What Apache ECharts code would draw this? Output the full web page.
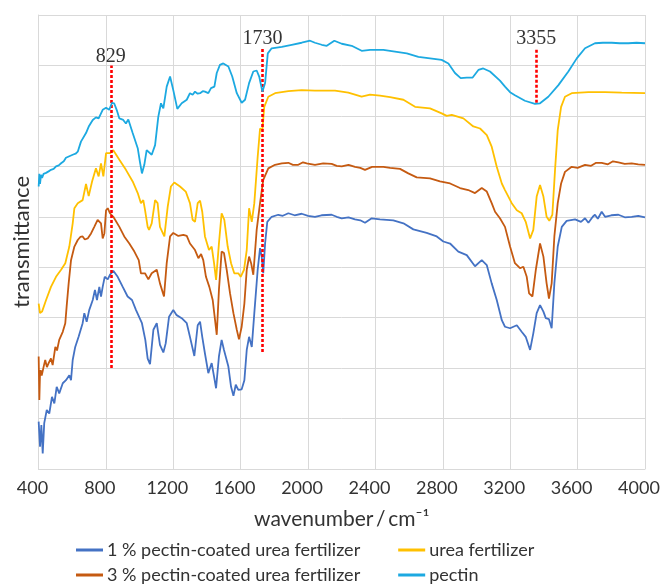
<!DOCTYPE html>
<html>
<head>
<meta charset="utf-8">
<script src="https://cdn.jsdelivr.net/npm/echarts@6/dist/echarts.min.js"></script>
<style>html,body{margin:0;padding:0;background:#fff}#c{width:661px;height:585px}</style>
</head>
<body>
<div id="c"></div>
<script>
const seriesNames = ['1 % pectin-coated urea fertilizer','3 % pectin-coated urea fertilizer','urea fertilizer','pectin'];
const xTicks = [400,800,1200,1600,2000,2400,2800,3200,3600,4000];
const peakLabels = ['829','1730','3355'];
const peakPos = [829,1730,3355];
const peakFrom = [2.0,2.32,7.26];
const peakTo = [8.0,8.35,8.35];

const pct1 = [[401,0.94],[409,0.44],[417,0.87],[425,0.31],[434,0.91],[449,1.17],[464,1.10],[480,1.43],[494,1.30],[508,1.63],[523,1.50],[544,1.70],[563,1.76],[583,1.86],[593,1.76],[603,2.16],[618,2.42],[638,2.62],[662,2.89],[672,3.09],[686,2.92],[701,3.15],[722,3.35],[735,3.55],[747,3.35],[761,3.61],[771,3.42],[781,3.61],[793,3.81],[811,3.76],[824,3.85],[844,3.93],[870,3.81],[900,3.61],[929,3.42],[955,3.35],[979,3.15],[1014,2.89],[1034,2.56],[1048,2.19],[1062,2.08],[1082,2.76],[1102,2.89],[1121,2.46],[1141,2.31],[1155,2.49],[1175,3.02],[1200,3.15],[1220,3.05],[1250,2.99],[1280,2.89],[1299,2.62],[1325,2.24],[1345,2.85],[1359,2.92],[1372,2.62],[1388,2.29],[1408,1.90],[1428,2.10],[1442,1.83],[1454,1.60],[1471,2.23],[1487,2.56],[1501,2.36],[1511,2.37],[1527,2.03],[1543,1.63],[1557,1.45],[1571,1.67],[1586,1.57],[1606,1.58],[1622,1.76],[1636,2.36],[1650,2.62],[1666,2.42],[1681,3.09],[1701,3.95],[1715,4.38],[1725,4.21],[1734,3.88],[1745,4.47],[1758,4.90],[1784,5.00],[1823,5.04],[1850,5.02],[1883,5.07],[1920,5.03],[1962,5.06],[2000,5.02],[2041,5.00],[2080,5.03],[2140,5.04],[2170,5.00],[2200,4.97],[2240,4.99],[2279,4.95],[2310,4.93],[2338,4.88],[2378,4.97],[2427,4.95],[2506,4.93],[2566,4.87],[2625,4.75],[2704,4.68],[2764,4.61],[2803,4.51],[2843,4.47],[2892,4.31],[2942,4.24],[2991,4.02],[3031,4.14],[3061,4.04],[3090,3.68],[3120,3.35],[3150,2.95],[3169,2.82],[3199,2.79],[3239,2.85],[3268,2.72],[3292,2.62],[3318,2.36],[3337,2.69],[3357,3.09],[3377,3.25],[3397,3.12],[3411,2.99],[3430,2.97],[3446,2.79],[3462,3.68],[3482,4.41],[3506,4.80],[3535,4.92],[3585,4.95],[3620,4.90],[3644,4.97],[3664,4.88],[3690,5.00],[3703,5.04],[3720,4.96],[3743,5.10],[3763,5.00],[3800,5.03],[3842,5.04],[3880,4.99],[3921,5.00],[3960,5.02],[4000,4.99]];

const pct3 = [[401,2.23],[405,1.37],[409,1.90],[413,1.96],[419,1.85],[425,1.83],[432,2.05],[440,2.16],[450,2.02],[460,2.10],[474,2.19],[484,2.06],[500,2.42],[510,2.35],[523,2.56],[544,2.72],[559,2.89],[567,3.22],[579,3.68],[593,4.14],[613,4.41],[633,4.54],[648,4.60],[662,4.61],[675,4.55],[692,4.57],[712,4.67],[731,4.80],[751,4.94],[771,4.87],[781,4.57],[791,4.67],[801,5.13],[811,5.17],[824,5.07],[844,5.00],[880,4.80],[909,4.61],[939,4.47],[969,4.31],[995,4.14],[1008,3.88],[1032,3.88],[1052,3.76],[1072,3.88],[1102,3.95],[1121,3.68],[1145,3.42],[1161,4.08],[1181,4.61],[1200,4.68],[1230,4.62],[1260,4.64],[1280,4.62],[1299,4.47],[1329,4.34],[1349,4.18],[1365,4.26],[1378,4.14],[1394,3.81],[1414,3.61],[1434,3.35],[1448,2.95],[1458,2.66],[1471,3.55],[1487,4.31],[1501,4.28],[1517,3.95],[1537,3.48],[1557,3.09],[1577,2.76],[1590,2.57],[1606,2.82],[1622,3.28],[1636,3.95],[1650,4.21],[1662,4.08],[1675,3.85],[1695,4.74],[1715,5.27],[1734,5.73],[1764,5.96],[1804,6.03],[1844,6.06],[1883,6.07],[1910,6.03],[1942,6.03],[1970,6.08],[1992,6.06],[2041,6.03],[2090,6.06],[2140,6.05],[2170,6.01],[2200,6.00],[2240,6.03],[2279,5.99],[2310,5.97],[2338,5.93],[2380,5.99],[2447,5.99],[2487,5.97],[2546,5.95],[2595,5.86],[2645,5.78],[2724,5.76],[2783,5.70],[2843,5.66],[2902,5.57],[2951,5.53],[2991,5.47],[3031,5.57],[3061,5.50],[3090,5.27],[3110,5.10],[3139,4.97],[3169,4.80],[3199,4.41],[3228,4.08],[3258,3.98],[3278,4.01],[3298,3.81],[3312,3.48],[3332,3.42],[3352,3.95],[3377,4.47],[3397,4.21],[3416,3.68],[3430,3.38],[3446,3.68],[3462,4.61],[3482,5.27],[3502,5.66],[3525,5.89],[3565,5.99],[3600,5.97],[3644,6.03],[3680,6.01],[3710,6.07],[3743,6.07],[3780,6.04],[3810,6.10],[3842,6.08],[3880,6.05],[3921,6.06],[3960,6.04],[4000,6.03]];

const urea = [[401,3.28],[409,3.09],[421,3.12],[445,3.35],[474,3.61],[504,3.81],[534,3.95],[559,4.08],[583,4.41],[603,4.87],[613,5.17],[633,5.27],[662,5.33],[682,5.65],[698,5.41],[718,5.70],[741,5.96],[757,5.80],[771,6.06],[785,5.80],[801,6.26],[824,6.26],[844,6.32],[880,6.13],[919,5.93],[959,5.70],[989,5.47],[1008,5.27],[1022,5.33],[1032,5.14],[1048,4.80],[1056,4.74],[1072,4.87],[1092,5.33],[1107,5.27],[1121,4.80],[1147,4.61],[1167,5.20],[1186,5.60],[1206,5.68],[1240,5.60],[1274,5.50],[1299,5.27],[1315,4.94],[1329,4.90],[1345,5.27],[1359,5.32],[1372,5.10],[1388,4.61],[1412,4.34],[1428,4.41],[1442,4.08],[1454,3.75],[1471,4.47],[1487,5.07],[1503,4.94],[1523,4.41],[1543,4.08],[1562,3.88],[1586,3.88],[1600,3.81],[1620,3.95],[1636,4.34],[1650,5.17],[1666,4.90],[1681,5.27],[1701,6.19],[1715,6.75],[1729,6.72],[1740,7.18],[1764,7.38],[1804,7.45],[1883,7.49],[1962,7.51],[2041,7.50],[2160,7.50],[2239,7.46],[2318,7.38],[2368,7.42],[2427,7.40],[2487,7.37],[2566,7.32],[2635,7.18],[2724,7.15],[2793,7.05],[2823,7.00],[2853,7.02],[2922,6.95],[2981,6.79],[3021,6.75],[3061,6.62],[3090,6.39],[3120,5.99],[3150,5.66],[3169,5.53],[3209,5.27],[3239,5.13],[3268,5.07],[3292,4.90],[3318,4.57],[3337,4.74],[3357,5.40],[3377,5.63],[3397,5.40],[3416,5.00],[3432,4.92],[3450,5.04],[3466,5.93],[3482,6.72],[3502,7.18],[3525,7.38],[3565,7.45],[3664,7.47],[3763,7.47],[3862,7.46],[4000,7.45]];

const pectin = [[401,5.60],[405,5.85],[409,5.65],[415,5.83],[421,5.77],[430,5.85],[445,5.87],[460,5.90],[474,5.93],[490,5.95],[504,6.00],[520,6.02],[534,6.06],[550,6.10],[563,6.17],[583,6.20],[603,6.23],[620,6.25],[633,6.29],[652,6.49],[682,6.66],[700,6.80],[722,6.92],[741,6.97],[757,6.95],[781,7.12],[801,7.16],[820,7.12],[836,7.26],[849,7.25],[864,7.12],[880,6.95],[903,6.92],[919,6.85],[933,6.93],[959,6.66],[989,6.36],[1002,6.09],[1014,5.86],[1028,6.03],[1042,6.32],[1052,6.29],[1072,6.23],[1092,6.42],[1111,6.98],[1127,7.25],[1141,7.15],[1161,7.58],[1181,7.78],[1200,7.51],[1224,7.14],[1250,7.25],[1280,7.32],[1299,7.45],[1315,7.42],[1329,7.48],[1345,7.44],[1359,7.45],[1375,7.49],[1388,7.48],[1408,7.45],[1424,7.55],[1444,7.58],[1458,7.85],[1477,8.01],[1497,8.04],[1527,7.98],[1550,7.78],[1577,7.45],[1606,7.26],[1626,7.32],[1650,7.65],[1675,7.88],[1695,7.90],[1710,7.78],[1729,7.48],[1745,7.65],[1761,8.24],[1784,8.34],[1844,8.37],[1903,8.41],[1962,8.45],[2012,8.49],[2041,8.45],[2081,8.41],[2111,8.39],[2156,8.49],[2200,8.43],[2259,8.39],[2318,8.29],[2368,8.31],[2447,8.31],[2526,8.27],[2586,8.24],[2655,8.17],[2724,8.14],[2793,8.11],[2833,8.04],[2872,7.85],[2906,7.75],[2942,7.76],[2977,7.76],[3011,7.91],[3040,7.94],[3080,7.88],[3139,7.70],[3169,7.58],[3199,7.47],[3228,7.41],[3287,7.30],[3347,7.24],[3377,7.25],[3426,7.38],[3486,7.61],[3545,7.88],[3595,8.14],[3644,8.34],[3703,8.44],[3750,8.45],[3803,8.45],[3850,8.44],[3901,8.44],[3950,8.45],[4000,8.44]];

const colors = ['#4472C4','#C55A11','#FFC000','#1CA9E1'];
const dataSets = [pct1, pct3, urea, pectin];
const FONT = 'Lato';

const chart = echarts.init(document.getElementById('c'), null, {renderer:'canvas'});
const series = dataSets.map((d,i)=>({
  name: seriesNames[i], type:'line', data:d, showSymbol:false, symbol:'none',
  lineStyle:{color:colors[i], width:1.8}, itemStyle:{color:colors[i]},
  animation:false, z:2+i
}));
series[3].markLine = {
  silent:true, symbol:['none','none'], animation:false,
  lineStyle:{color:'#FF0000', type:[3,2], width:2.6},
  label:{show:true, position:'end', distance:-1, color:'#333', fontFamily:'Liberation Serif', fontSize:20},
  data: peakPos.map((p,i)=>[
    {coord:[p, peakFrom[i]], label:{formatter:peakLabels[i]}},
    {coord:[p, peakTo[i]]}
  ])
};
const legendCommon = {
  left:76, padding:0, itemWidth:27, itemHeight:3, icon:'rect', itemGap:38,
  textStyle:{fontFamily:FONT, fontSize:18, color:'#333', padding:[0,0,0,-1]}, selectedMode:false
};
chart.setOption({
  animation:false,
  grid:{left:38.5, right:16, top:15, bottom:116, containLabel:false, outerBoundsMode:'none'},
  xAxis:{type:'value', min:400, max:4000, interval:400,
    name:'wavenumber\u2009/\u2009cm\u207B\u00B9', nameLocation:'middle', nameGap:40,
    nameTextStyle:{fontFamily:FONT, fontSize:21, color:'#333'},
    axisLine:{show:true, lineStyle:{color:'#d9d9d9'}}, axisTick:{show:false},
    axisLabel:{fontFamily:FONT, fontSize:18, color:'#333', margin:10, padding:[0,12,0,0], formatter:(v)=>String(v)},
    splitLine:{show:true, lineStyle:{color:'#d9d9d9', width:1}}},
  yAxis:{type:'value', min:0, max:9, interval:1,
    name:'transmittance', nameLocation:'middle', nameGap:6,
    nameTextStyle:{fontFamily:FONT, fontSize:22, color:'#333'},
    axisLine:{show:true, lineStyle:{color:'#d9d9d9'}}, axisTick:{show:false},
    axisLabel:{show:false},
    splitLine:{show:true, lineStyle:{color:'#d9d9d9', width:1}}},
  legend:[
    Object.assign({top:541, data:[seriesNames[0], seriesNames[2]]}, legendCommon),
    Object.assign({top:566, data:[seriesNames[1], seriesNames[3]]}, legendCommon)
  ],
  series: series
});
</script>
</body>
</html>
